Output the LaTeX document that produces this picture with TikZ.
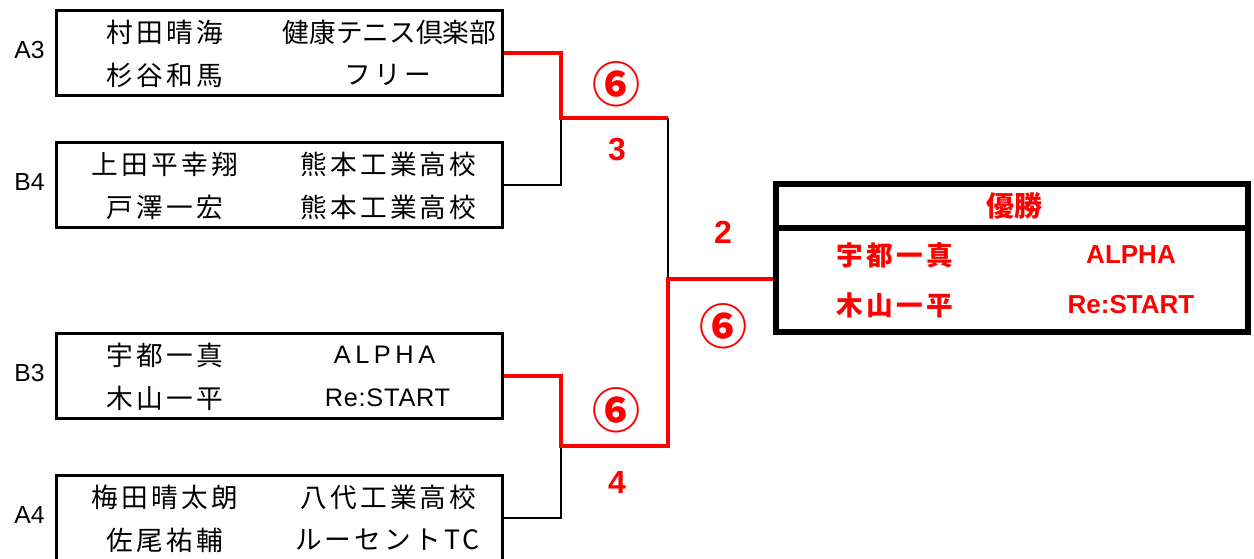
\documentclass[tikz,border=0pt]{standalone}
\usepackage{fontspec}
\newfontfamily\jpfont{Noto Sans CJK JP}
\newfontfamily\arfont{Liberation Sans}
\usetikzlibrary{positioning}

\tikzset{
  entry/.style={draw, line width=2.25pt, minimum width=335pt, minimum height=64pt, inner sep=0pt},
  player/.style={font=\jpfont\addfontfeature{LetterSpace=12}\fontsize{20}{20}\selectfont, inner sep=0pt},
  club/.style={font=\jpfont\fontsize{20}{20}\selectfont, inner sep=0pt},
  team/.style={font=\arfont\fontsize{19}{19}\selectfont, inner sep=0pt},
  seed/.style={font=\arfont\fontsize{18.5}{18.5}\selectfont, inner sep=0pt},
  win/.style={red, line width=3.5pt},
  lose/.style={black, line width=2pt},
  score/.style={red, font=\arfont\bfseries\fontsize{24}{24}\selectfont, inner sep=0pt},
  games/.style={red, font=\jpfont\bfseries\fontsize{36}{36}\selectfont, inner sep=0pt},
  champname/.style={red, font=\jpfont\bfseries\addfontfeature{LetterSpace=12}\fontsize{20}{20}\selectfont, inner sep=0pt},
  champteam/.style={red, font=\arfont\bfseries\fontsize{19.5}{19.5}\selectfont, inner sep=0pt},
}

\begin{document}
\begin{tikzpicture}[x=0.75pt,y=-0.75pt]
  \useasboundingbox (0,0) rectangle (1254,559);
  % First entry
  \begin{scope}[shift={(279.5,53)}]
    \node[entry] (a3) at (0,0) {};
    \node[seed] (a3s) at (-250,-3) {A3};
    \node[player] (a3p1) at (-114.5,-21) {村田晴海};
    \node[player] (a3p2) at (-114.5,22) {杉谷和馬};
    \node[club] (a3c1) at (110,-21) {健康テニス倶楽部};
    \node[player] (a3c2) at (108,22) {フリー};
  \end{scope}
  % Second entry
  \begin{scope}[shift={(279.5,185)}]
    \node[entry] (b4) at (0,0) {};
    \node[seed] (b4s) at (-250,-3) {B4};
    \node[player] (b4p1) at (-114.5,-21) {上田平幸翔};
    \node[player] (b4p2) at (-114.5,22) {戸澤一宏};
    \node[player] (b4c1) at (109,-21) {熊本工業高校};
    \node[player] (b4c2) at (109,22) {熊本工業高校};
  \end{scope}
  % Third entry
  \begin{scope}[shift={(279.5,376)}]
    \node[entry] (b3) at (0,0) {};
    \node[seed] (b3s) at (-250,-3) {B3};
    \node[player] (b3p1) at (-114.5,-21) {宇都一真};
    \node[player] (b3p2) at (-114.5,22) {木山一平};
    \node[team, font=\arfont\addfontfeature{LetterSpace=18}\fontsize{19}{19}\selectfont] (b3c1) at (105,-21) {ALPHA};
    \node[team, font=\arfont\addfontfeature{LetterSpace=3}\fontsize{19}{19}\selectfont] (b3c2) at (108,22) {Re:START};
  \end{scope}
  % Fourth entry
  \begin{scope}[shift={(279.5,518)}]
    \node[entry] (a4) at (0,0) {};
    \node[seed] (a4s) at (-250,-3) {A4};
    \node[player] (a4p1) at (-114.5,-21) {梅田晴太朗};
    \node[player] (a4p2) at (-114.5,22) {佐尾祐輔};
    \node[player] (a4c1) at (109,-21) {八代工業高校};
    \node[player] (a4c2) at (108,22) {ルーセントTC};
  \end{scope}
  % Champion
  \node[draw, line width=4pt, minimum width=354pt, minimum height=111pt] (champ) at (1012,258) {};
  \draw[line width=4.5pt] (776,228) -- (1248,228);
  \node[red, font=\jpfont\bfseries\fontsize{21}{21}\selectfont, inner sep=0pt] (title) at (1014,206) {優勝};
  \node[champname] (wp1) at (895,255) {宇都一真};
  \node[champname] (wp2) at (895,305) {木山一平};
  \node[champteam] (wc1) at (1131,255) {ALPHA};
  \node[champteam] (wc2) at (1131,305) {Re:START};
  % Bracket
  \coordinate (q1) at (561,118);
  \coordinate (s1) at (668,118);
  \coordinate (q2) at (561,446);
  \coordinate (s2) at (668,446);
  \coordinate (f) at (668,279);
  \draw[lose] (b4.east) -| (q1);
  \draw[lose] (s1) -- (f);
  \draw[lose] (a4.east) -| (q2);
  \draw[win] (a3.east) -| (q1) -- (s1);
  \draw[win] (b3.east) -| (q2) -- (s2) -- (f) -- (f -| champ.west);
  % Scores
  \node[games] (g1) at (616,84) {⑥};
  \node[score] (r1) at (617,150) {3};
  \node[score] (r3) at (723,232) {2};
  \node[games] (g3) at (723,326) {⑥};
  \node[games] (g2) at (616,410) {⑥};
  \node[score] (r2) at (617,482) {4};
\end{tikzpicture}
\end{document}
